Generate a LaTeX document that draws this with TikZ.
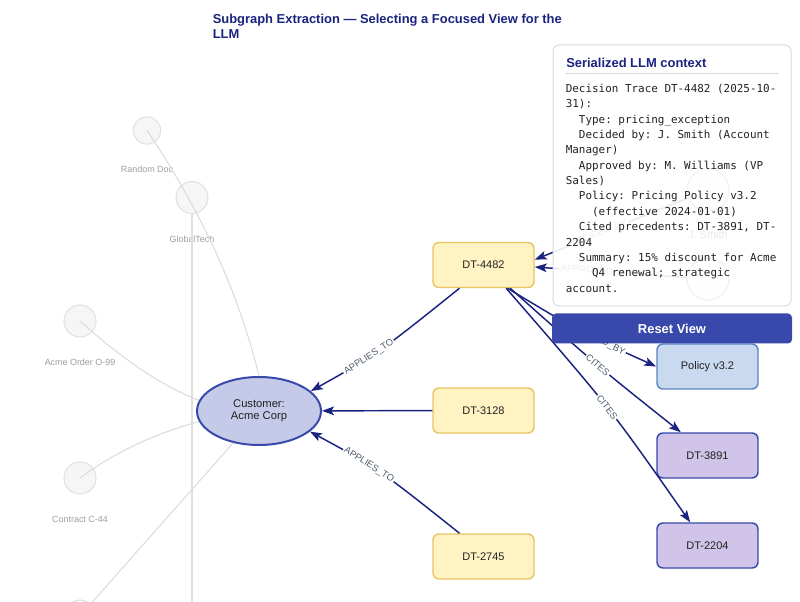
\documentclass[tikz,border=0pt]{standalone}
\usepackage{fontspec}
\setmainfont{Liberation Sans}
\setmonofont{DejaVu Sans Mono}
\usetikzlibrary{shapes,arrows.meta,positioning,calc}

\definecolor{navy}{HTML}{1A237E}
\definecolor{indigo}{HTML}{3949AB}
\definecolor{ink}{HTML}{222222}
\definecolor{dtfill}{HTML}{FFF3C4}
\definecolor{dtline}{HTML}{E8C463}
\definecolor{polfill}{HTML}{C9D9F0}
\definecolor{polline}{HTML}{5B84C4}
\definecolor{precfill}{HTML}{D1C4E9}
\definecolor{custfill}{HTML}{C5CAE9}
\definecolor{fadefill}{HTML}{F6F6F6}
\definecolor{fadeline}{HTML}{E0E0E0}
\definecolor{fadeedge}{HTML}{D3DCE2}
\definecolor{fadetext}{HTML}{9E9E9E}
\definecolor{lbltext}{HTML}{4E5D6C}
\definecolor{panelline}{HTML}{D5DCE3}

\begin{document}
\begin{tikzpicture}[
    x=0.75pt, y=-0.75pt,
    dtbox/.style={rectangle, draw=dtline, fill=dtfill, line width=1.1pt, rounded corners=4.5pt, minimum width=75.75pt, minimum height=33.75pt, font=\fontsize{8.25}{10}\selectfont, text=ink},
    polbox/.style={dtbox, draw=polline, fill=polfill},
    precbox/.style={dtbox, draw=indigo, fill=precfill},
    custnode/.style={ellipse, draw=indigo, fill=custfill, line width=1.5pt, minimum width=93pt, minimum height=51pt, inner sep=0pt, align=center, font=\fontsize{8.4}{9}\selectfont, text=ink},
    faded/.style={circle, draw=fadeline, fill=fadefill, line width=0.75pt, minimum size=24pt, inner sep=0pt},
    fadedtxt/.style={text=fadetext, inner sep=0pt, font=\fontsize{6.7}{8}\selectfont},
    hidnode/.style={circle, draw=gray, fill=gray!8, line width=1pt, minimum size=31.5pt, inner sep=0pt},
    rel/.style={-{Stealth[length=9pt, width=6.5pt, inset=2pt]}, line width=1.1pt, draw=navy},
    elbl/.style={sloped, fill=white, inner sep=1pt, text=lbltext, font=\fontsize{7}{8}\selectfont},
    ghost/.style={draw=fadeedge, line width=0.75pt},
    panel/.style={rectangle, draw=panelline, fill=white, fill opacity=0.9, line width=0.75pt, rounded corners=4.5pt, minimum width=178.5pt, minimum height=195.75pt},
    resetbtn/.style={rectangle, fill=indigo, rounded corners=3pt, minimum width=180pt, minimum height=22.5pt, text=white, font=\bfseries\fontsize{9.7}{12}\selectfont}
]
    \useasboundingbox (0,0) rectangle (800,602);
    \clip (0,0) rectangle (800,602);
    \fill[white] (0,0) rectangle (800,602);

    % title (base = last line)
    \node[anchor=base west, align=left, inner sep=0pt, text=navy, font=\bfseries\fontsize{9.7}{11.25}\selectfont] (title) at (212.5,38.5) {Subgraph Extraction — Selecting a Focused View for the\\LLM};

    % faded neighbourhood
    \node[faded, minimum size=20.5pt] (rdoc) at (147,130.5) {};
    \node[fadedtxt, below=16pt of rdoc] (rdoc-l) {Random Doc};
    \node[faded] (gtech) at (192,197.5) {};
    \node[fadedtxt, below=16pt of gtech] (gtech-l) {GlobalTech};
    \node[faded] (order) at (80,321) {};
    \node[fadedtxt, below=16pt of order] (order-l) {Acme Order O-99};
    \node[faded] (contract) at (80,478) {};
    \node[fadedtxt, below=16pt of contract] (contract-l) {Contract C-44};
    \node[faded] (extra) at (80,616) {};
    \coordinate (gtech-end) at (192,615);

    % focused subgraph
    \node[custnode] (cust) at (259,411) {Customer:\\Acme Corp};
    \node[dtbox] (n4482) at (483.5,265) {DT-4482};
    \node[dtbox] (n3128) at (483.5,410.5) {DT-3128};
    \node[dtbox] (n2745) at (483.5,556.5) {DT-2745};
    \node[polbox] (pol) at (707.5,366.5) {Policy v3.2};
    \node[precbox] (n3891) at (707.5,455.5) {DT-3891};
    \node[precbox] (n2204) at (707.5,545.5) {DT-2204};
    \node[hidnode] (jsmith) at (708,190) {};
    \node[below=14pt of jsmith, inner sep=0pt, text=ink, font=\fontsize{8.25}{10}\selectfont] (jsmith-l) {J. Smith};
    \node[hidnode] (mwill) at (708,279) {};

    % faded edges
    \draw[ghost] (rdoc.center) .. controls (201.7,211.5) and (239,293.7) .. (cust.north);
    \draw[draw=fadeline, line width=1.1pt] (gtech) -- (gtech-end);
    \draw[ghost] (order.center) .. controls (122.7,359.7) and (162.7,386.2) .. (cust.170);
    \draw[ghost] (contract.center) .. controls (114,452.7) and (154,433.8) .. (cust.190);
    \draw[ghost] (extra.center) -- (cust.231);

    % edges
    \draw[rel] (jsmith) -- ([yshift=4pt]n4482.east) node[elbl, pos=0.58] {DECIDED\_BY};
    \draw[rel] (mwill) -- ([yshift=-1.5pt]n4482.east) node[elbl, pos=0.6] {APPROVED\_BY};
    \draw[rel] ([xshift=-18pt]n4482.south) .. controls (378.5,353.2) .. (cust.21) node[elbl, pos=0.6] {APPLIES\_TO};
    \draw[rel] (n3128) -- (cust);
    \draw[rel] ([xshift=-18pt]n2745.north) .. controls (378.5,468.8) .. (cust.-22) node[elbl, pos=0.6] {APPLIES\_TO};
    \draw[rel] ([xshift=18pt]n4482.south) .. controls (580.75,332.4) .. (pol.west) node[elbl, pos=0.6] {GOVERNED\_BY};
    \draw[rel] ([xshift=20pt]n4482.south) .. controls (598.5,366.8) .. ([xshift=-20pt]n3891.north) node[elbl, pos=0.5] {CITES};
    \draw[rel] ([xshift=17pt]n4482.south) .. controls (610,407.8) .. ([xshift=-13pt]n2204.north) node[elbl, pos=0.5] {CITES};

    % serialized context panel
    \node[panel] (ctx) at (672,175.5) {};
    \node[anchor=base west, inner sep=0pt, text=navy, font=\bfseries\fontsize{9.7}{12}\selectfont] (ctx-title) at (566,67.3) {Serialized LLM context};
    \draw[panelline, line width=0.75pt] (565,73.5) -- (779,73.5);
    \node[anchor=base west, align=left, inner sep=0pt, text=ink, font=\ttfamily\fontsize{8.2}{11.54}\selectfont] (ctx-body) at (565.5,292.3) {Decision Trace DT-4482 (2025-10-\\
31):\\
\hphantom{00}Type: pricing\_exception\\
\hphantom{00}Decided by: J. Smith (Account\\
Manager)\\
\hphantom{00}Approved by: M. Williams (VP\\
Sales)\\
\hphantom{00}Policy: Pricing Policy v3.2\\
\hphantom{0000}(effective 2024-01-01)\\
\hphantom{00}Cited precedents: DT-3891, DT-\\
2204\\
\hphantom{00}Summary: 15\% discount for Acme\\
\hphantom{0000}Q4 renewal; strategic\\
account.};

    \node[resetbtn] (reset) at (672,328.5) {Reset View};
\end{tikzpicture}
\end{document}
